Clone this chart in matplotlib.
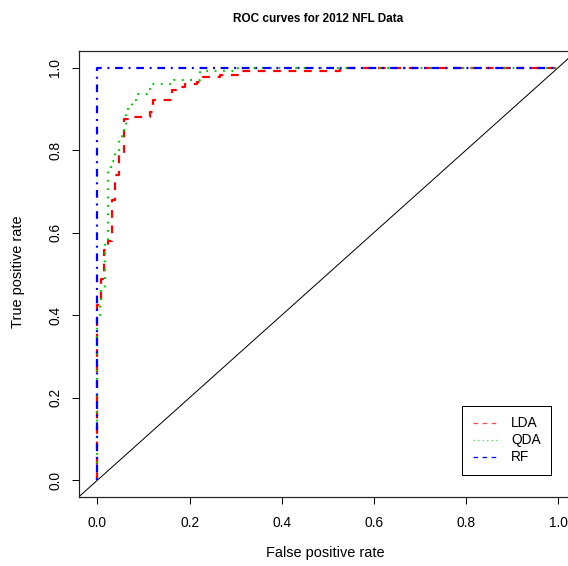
import matplotlib
matplotlib.use("Agg")
import matplotlib.pyplot as plt
from matplotlib.lines import Line2D

plt.rcParams['font.family'] = ['Liberation Sans', 'DejaVu Sans']

# ROC step curves (knees: top of each vertical step)
lda_fpr = [0.0, 0.0, 0.008, 0.015, 0.023, 0.031, 0.038, 0.047, 0.058, 0.070,
           0.114, 0.120, 0.162, 0.170, 0.190, 0.215, 0.229, 0.266, 0.310, 0.527, 1.0]
lda_tpr = [0.0, 0.425, 0.487, 0.557, 0.580, 0.680, 0.740, 0.786, 0.875, 0.880,
           0.892, 0.921, 0.945, 0.953, 0.959, 0.966, 0.976, 0.983, 0.991, 1.0, 1.0]

qda_fpr = [0.0, 0.0, 0.006, 0.008, 0.017, 0.023, 0.030, 0.038, 0.047, 0.054,
           0.062, 0.067, 0.075, 0.083, 0.108, 0.118, 0.166, 0.223, 0.306, 1.0]
qda_tpr = [0.0, 0.390, 0.430, 0.466, 0.577, 0.751, 0.773, 0.795, 0.824, 0.848,
           0.892, 0.904, 0.913, 0.937, 0.947, 0.959, 0.969, 0.992, 1.0, 1.0]

rf_fpr = [0.0, 0.0, 1.0]
rf_tpr = [0.0, 1.0, 1.0]

ticks = [0.0, 0.2, 0.4, 0.6, 0.8, 1.0]
tick_labels = ["0.0", "0.2", "0.4", "0.6", "0.8", "1.0"]
series_names = ["LDA", "QDA", "RF"]
colors = ["#FF0000", "#00CD00", "#0000FF"]

W, H = 568, 566
fig = plt.figure(figsize=(W / 100, H / 100), dpi=100)
L, R, T, B = 79, 576.7, 51, 496.7
ax = fig.add_axes([L / W, 1 - B / H, (R - L) / W, (B - T) / H])

px = 0.72  # points per pixel
lw = 2.2 * px
fs = 13.8 * px

ax.axline((0, 0), slope=1, color="black", lw=1.0 * px)
ax.plot(lda_fpr, lda_tpr, drawstyle="steps-post", color=colors[0], lw=lw,
        linestyle=(0, (3.5, 3.5)))
ax.plot(qda_fpr, qda_tpr, drawstyle="steps-post", color=colors[1], lw=lw,
        linestyle=(0, (0.8, 3.0)))
ax.plot(rf_fpr, rf_tpr, drawstyle="steps-post", color=colors[2], lw=lw,
        linestyle=(0, (0.9, 2.6, 3.5, 2.6)))

ax.set_xlim(-0.04, 1.04)
ax.set_ylim(-0.04, 1.04)
ax.set_xticks(ticks)
ax.set_xticklabels(tick_labels)
ax.set_yticks(ticks)
ax.set_yticklabels(tick_labels, rotation=90, va="center")
ax.tick_params(axis="both", direction="out", length=7 * px, width=1 * px,
               labelsize=fs, colors="black")
ax.tick_params(axis="x", pad=12.5 * px)
ax.tick_params(axis="y", pad=10 * px)
for s in ax.spines.values():
    s.set_linewidth(1.2 * px)
    s.set_color("#222222")

fig.text(318 / W, 1 - 18.5 / H, "ROC curves for 2012 NFL Data", ha="center",
         va="center", fontsize=11.8 * px, fontweight="bold")
fig.text(325 / W, 1 - 553 / H, "False positive rate", ha="center", va="center",
         fontsize=14.5 * px)
fig.text(18 / W, 1 - 272 / H, "True positive rate", ha="center", va="center",
         rotation=90, fontsize=14.5 * px)

handles = [
    Line2D([], [], color=colors[0], lw=1.3 * px, linestyle=(0, (3.5, 3.5)), alpha=0.7),
    Line2D([], [], color=colors[1], lw=1.3 * px, linestyle=(0, (1, 2.5)), alpha=0.7),
    Line2D([], [], color=colors[2], lw=1.3 * px, linestyle=(0, (3.5, 3.5))),
]
leg = ax.legend(handles, series_names, loc="upper left",
                bbox_to_anchor=(462.3 / W, 1 - 406 / H), bbox_transform=fig.transFigure,
                borderaxespad=0, frameon=True, fancybox=False, shadow=False,
                edgecolor="black", framealpha=1, fontsize=fs,
                handlelength=1.9, handletextpad=0.9, borderpad=0.75,
                labelspacing=0.22)
leg.get_frame().set_linewidth(1 * px)

fig.savefig("out.png", dpi=100)
